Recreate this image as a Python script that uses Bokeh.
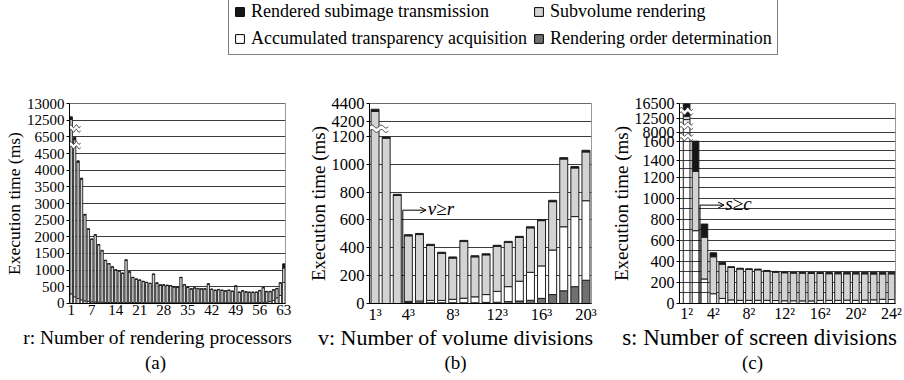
import numpy as np
from bokeh.plotting import figure
from bokeh.layouts import column, row
from bokeh.models import Range1d, FixedTicker, Legend, LegendItem, Label, Arrow, OpenHead
from bokeh.embed import file_html
from bokeh.resources import INLINE

FONT = "Liberation Serif"
C_TRANS, C_SUB, C_ACC, C_ORD = "#161616", "#d3d3d3", "#ffffff", "#707070"
GRID = "#3c3c3c"
EDGE = "#1e1e1e"

legend_labels = ["Rendered subimage transmission", "Subvolume rendering",
                 "Accumulated transparency acquisition", "Rendering order determination"]

# ---------------- (a) r: number of rendering processors ----------------
a_r = list(range(1, 64))
a_total = [12600, 6450, 4280, 3760, 2676, 2243, 1938, 2066, 1771, 1594,
           1299, 1200, 1102, 1013, 984, 915, 1309, 954, 787, 738,
           708, 669, 640, 610, 886, 620, 561, 561, 551, 541,
           502, 492, 787, 571, 492, 443, 472, 453, 443, 443,
           590, 433, 403, 423, 403, 384, 403, 374, 531, 344,
           384, 354, 344, 344, 344, 394, 482, 364, 364, 413,
           453, 620, 1190]
a_accum = [290, 200, 150, 110, 80, 60, 50, 45, 40, 35,
           30, 30, 30, 30, 30, 30, 30, 30, 30, 30,
           25, 25, 25, 25, 25, 25, 25, 25, 25, 25,
           25, 25, 25, 25, 25, 25, 25, 25, 25, 25,
           25, 25, 25, 25, 25, 25, 25, 25, 25, 25,
           25, 25, 25, 25, 25, 30, 35, 40, 60, 90,
           170, 240, 630]
a_trans = [80, 300, 40, 30, 20, 15, 15, 12, 12, 12,
           10, 10, 10, 10, 10, 10, 10, 10, 10, 10,
           10, 10, 10, 10, 10, 10, 10, 10, 10, 10,
           10, 10, 10, 10, 10, 10, 10, 10, 10, 10,
           10, 10, 10, 10, 10, 10, 10, 10, 10, 10,
           10, 10, 10, 10, 10, 10, 10, 10, 10, 10,
           10, 10, 125]
a_xticks = [1, 7, 14, 21, 28, 35, 42, 49, 56, 63]
a_yticks = [0, 500, 1000, 1500, 2000, 2500, 3000, 3500, 4000, 4500, 6500, 12500, 13000]

# ---------------- (b) v: number of volume divisions ----------------
b_v = list(range(1, 21))
b_total = [4335, 1195, 784, 494, 503, 425, 368, 334, 453, 343,
           357, 418, 446, 482, 551, 603, 741, 1047, 983, 1100]
b_order = [0, 0, 0, 10, 5, 5, 5, 5, 5, 5,
           8, 9, 14, 18, 23, 37, 64, 91, 121, 167]
b_accum = [0, 0, 0, 5, 13, 17, 17, 25, 33, 43,
           56, 78, 107, 142, 201, 233, 320, 460, 503, 571]
b_trans = [25, 8, 8, 8, 8, 8, 8, 8, 8, 8,
           8, 8, 8, 8, 8, 8, 10, 10, 10, 12]
b_xticks = [1, 4, 8, 12, 16, 20]
b_xlabels = ["1³", "4³", "8³", "12³", "16³", "20³"]
b_yticks = [0, 200, 400, 600, 800, 1000, 1200, 4200, 4400]
b_mark = 670          # height of the v>=r marker line (ms)

# ---------------- (c) s: number of screen divisions ----------------
c_s = list(range(1, 25))
c_total = [16500, 1610, 755, 482, 392, 350, 335, 330, 327, 314, 305, 300,
           297, 296, 296, 295, 295, 295, 296, 296, 296, 296, 296, 297]
c_accum = [12275, 692, 233, 93, 48, 34, 30, 30, 30, 30, 28, 26,
           26, 25, 25, 30, 30, 30, 32, 30, 32, 35, 40, 38]
c_trans = [3300, 340, 125, 38, 18, 8, 7, 7, 7, 7, 7, 8,
           8, 8, 10, 10, 12, 12, 14, 14, 14, 15, 15, 15]
c_xticks = [1, 4, 8, 12, 16, 20, 24]
c_xlabels = ["1²", "4²", "8²", "12²", "16²", "20²", "24²"]
c_yticks = [0, 200, 400, 600, 800, 1000, 1200, 1400, 1600, 8000, 12500, 16500]
c_grid = [0, 100, 200, 300, 400, 500, 600, 700, 800, 900, 1000, 1100, 1200,
          1300, 1400, 1500, 1600, 8000, 12500, 16500]
c_mark = 935

# ---------------- broken-axis layout (px above frame bottom) ----------------
A_H, B_H, C_H = 204, 210, 204
a_brk_v = a_yticks
a_brk_p = [17 * i for i in range(len(a_yticks))]
b_brk_v = [0, 1200, 4200, 4400]
b_brk_p = [0, 175.5, 191.5, 210]
c_brk_v = [0, 1200, 1400, 1600, 8000, 12500, 16500]
c_brk_p = [0, 128.8, 146.0, 165.6, 174.3, 188.3, 204.0]


def mapper(vals, pos):
    return lambda v: np.round(np.interp(np.asarray(v, float), vals, pos), 3)


fa, fb, fc = mapper(a_brk_v, a_brk_p), mapper(b_brk_v, b_brk_p), mapper(c_brk_v, c_brk_p)

PANEL_H = 266


def panel(width, borders, xr, H, tick_px, ylab_px):
    l, r, t, b = borders
    p = figure(width=width, height=PANEL_H, x_range=Range1d(*xr), y_range=Range1d(-0.001, H + 0.001),
               toolbar_location=None, output_backend="svg",
               min_border_left=l, min_border_right=r, min_border_top=t, min_border_bottom=b)
    p.outline_line_color = "#9a9a9a"
    p.xgrid.visible = False
    p.ygrid.grid_line_color = GRID
    p.ygrid.grid_line_width = 1
    for ax in (p.xaxis[0], p.yaxis[0]):
        ax.axis_line_color = "black"
        ax.major_label_text_font = FONT
        ax.major_label_text_font_size = tick_px
        ax.major_label_text_color = "black"
        ax.minor_tick_line_color = None
        ax.major_tick_line_color = "black"
    p.yaxis.major_tick_out = 3
    p.yaxis.major_tick_in = 0
    p.yaxis.major_label_standoff = 2
    p.yaxis.axis_label = "Execution time (ms)"
    p.yaxis.axis_label_text_font = FONT
    p.yaxis.axis_label_text_font_style = "normal"
    p.yaxis.axis_label_text_font_size = ylab_px
    p.yaxis.axis_label_text_color = "black"
    p.yaxis.axis_label_standoff = 0
    p.xaxis.major_tick_out = 0
    p.xaxis.major_tick_in = 0
    p.xaxis.major_label_standoff = 1
    return p


def set_yticks(p, f, vals, grid_vals=None):
    pos = [float(x) for x in f(vals)]
    p.yaxis.ticker = FixedTicker(ticks=pos)
    p.yaxis.major_label_overrides = {q: str(v) for q, v in zip(pos, vals)}
    gpos = pos if grid_vals is None else [float(x) for x in f(grid_vals)]
    p.ygrid.ticker = FixedTicker(ticks=gpos)


def stack(p, x, f, segs, width, lw):
    base = np.zeros(len(x))
    for vals, color, alpha in segs:
        top = base + np.asarray(vals, float)
        p.vbar(x=x, bottom=f(base), top=f(top), width=width,
               fill_color=color, fill_alpha=alpha, line_color=EDGE, line_width=lw)
        base = top


def brk(p, x0, x1, yb):
    xs = np.linspace(x0, x1, 60)
    w = 1.5 * np.sin(np.linspace(0, 4 * np.pi, 60))
    p.varea(x=xs, y1=yb - 2.3 + w, y2=yb + 2.3 + w, fill_color="white")
    p.line(x=xs, y=yb - 2.3 + w, line_color="#333333", line_width=1)
    p.line(x=xs, y=yb + 2.3 + w, line_color="#333333", line_width=1)


def text(p, x, y, s, size, style="normal", align="center"):
    p.add_layout(Label(x=x, y=y, text=s, text_font=FONT, text_font_size=size,
                       text_font_style=style, text_align=align, text_baseline="middle",
                       text_color="black"))


def marker(p, x, y, x_end, label):
    p.add_layout(Arrow(end=None, x_start=x, y_start=0, x_end=x, y_end=y,
                       line_color="black", line_width=1))
    p.add_layout(Arrow(end=OpenHead(size=6, line_width=1), x_start=x, y_start=y, x_end=x_end, y_end=y,
                       line_color="black", line_width=1))
    text(p, x_end + 0.15, y + 2, label, "19px", style="italic", align="left")


# ---------------- panel (a) ----------------
pa = panel(300, (68, 15, 43, 19), (0.5, 63.5), A_H, "15px", "17.5px")
set_yticks(pa, fa, a_yticks)
pa.xaxis.ticker = FixedTicker(ticks=a_xticks)
a_sub = np.array(a_total) - np.array(a_accum) - np.array(a_trans)
stack(pa, a_r, fa, [(a_accum, C_ACC, 1.0), (a_sub, C_SUB, 1.0), (a_trans, C_TRANS, 1.0)], 0.7, 0.9)
brk(pa, 0.5, 3.7, (a_brk_p[9] + a_brk_p[10]) / 2)
brk(pa, 0.5, 3.7, (a_brk_p[10] + a_brk_p[11]) / 2)

# ---------------- panel (b) ----------------
pb = panel(300, (69, 9, 33, 23), (0.5, 20.5), B_H, "16.5px", "19px")
set_yticks(pb, fb, b_yticks)
pb.xaxis.ticker = FixedTicker(ticks=b_xticks)
pb.xaxis.major_label_overrides = dict(zip(b_xticks, b_xlabels))
b_sub = (np.array(b_total) - np.array(b_order) - np.array(b_accum) - np.array(b_trans))
stack(pb, b_v, fb, [(b_order, C_ORD, 1.0), (b_accum, C_ACC, 1.0),
                    (b_sub, C_SUB, 1.0), (b_trans, C_TRANS, 1.0)], 0.72, 1)
brk(pb, 0.5, 2.2, (b_brk_p[1] + b_brk_p[2]) / 2)
marker(pb, 3.5, float(fb(b_mark)), 5.6, "v≥r")

# ---------------- panel (c) ----------------
pc = panel(302, (79, 7, 40, 22), (0.2, 24.45), C_H, "16px", "19px")
set_yticks(pc, fc, c_yticks, c_grid)
pc.xaxis.ticker = FixedTicker(ticks=c_xticks)
pc.xaxis.major_label_overrides = dict(zip(c_xticks, c_xlabels))
c_sub = np.array(c_total) - np.array(c_accum) - np.array(c_trans)
stack(pc, c_s, fc, [(c_accum, C_ACC, 0.0), (c_sub, C_SUB, 1.0), (c_trans, C_TRANS, 1.0)], 0.75, 1)
for lo, hi in [(1600, 8000), (8000, 12500), (12500, 16500)]:
    brk(pc, 0.2, 1.7, (float(fc(lo)) + float(fc(hi))) / 2)
marker(pc, 2.5, float(fc(c_mark)), 5.2, "s≥c")

# ---------------- legend strip (top) ----------------
pl = figure(width=902, height=60, x_range=Range1d(0, 1), y_range=Range1d(0, 1),
            toolbar_location=None, output_backend="svg",
            min_border_left=0, min_border_right=0, min_border_top=0, min_border_bottom=0)
pl.axis.visible = False
pl.grid.visible = False
pl.outline_line_color = None
leg_colors = [C_TRANS, C_SUB, C_ACC, C_ORD]
items = []
for lab, col in zip(legend_labels, leg_colors):
    r = pl.vbar(x=[-10], top=[-10], bottom=[-11], width=1, fill_color=col,
                line_color="black", line_width=1)
    items.append(LegendItem(label=lab, renderers=[r]))
leg = Legend(items=items, orientation="horizontal", ncols=2, location=(228, 5),
             label_text_font=FONT, label_text_font_size="18px", label_text_color="black",
             glyph_width=11, glyph_height=11, label_standoff=6, label_height=20,
             padding=5, spacing=6, margin=0, border_line_color="black", border_line_width=1,
             background_fill_alpha=1.0)
pl.add_layout(leg)

# ---------------- caption strip (bottom): axis titles and panel letters ----------------
pt = figure(width=902, height=52, x_range=Range1d(0, 902), y_range=Range1d(378, 326),
            toolbar_location=None, output_backend="svg",
            min_border_left=0, min_border_right=0, min_border_top=0, min_border_bottom=0)
pt.axis.visible = False
pt.grid.visible = False
pt.outline_line_color = None
text(pt, 157, 337, "r: Number of rendering processors", "19.5px")
text(pt, 455, 337, "v: Number of volume divisions", "22px")
text(pt, 759, 337, "s: Number of screen divisions", "23px")
text(pt, 155, 362, "(a)", "19px")
text(pt, 455, 362, "(b)", "19px")
text(pt, 752, 362, "(c)", "19px")

layout = column(pl, row(pa, pb, pc), pt)
open("out.html", "w").write(file_html(layout, INLINE))
